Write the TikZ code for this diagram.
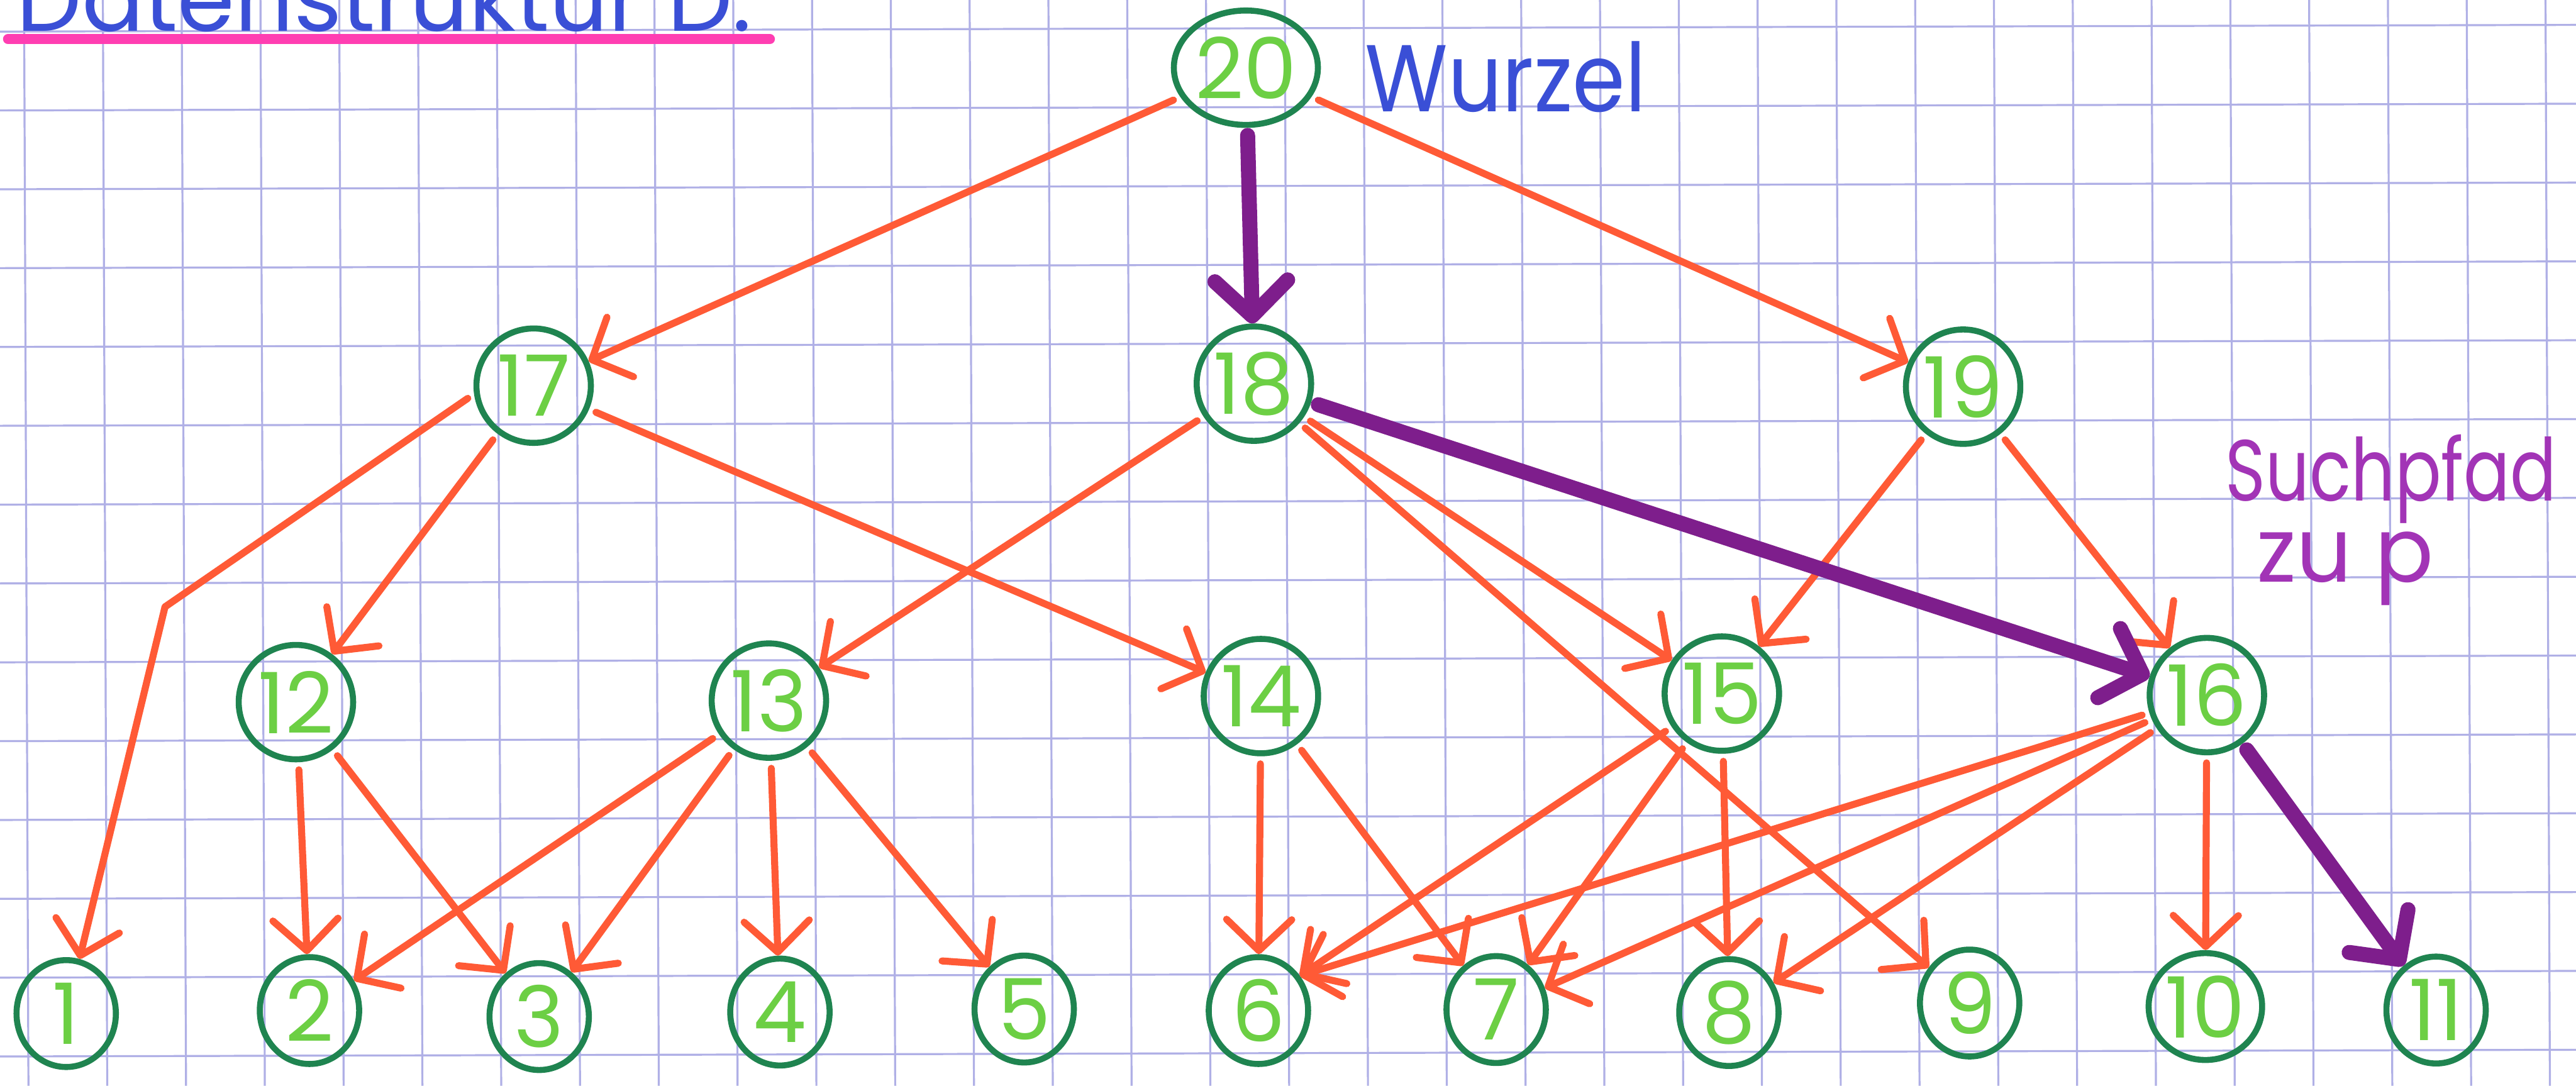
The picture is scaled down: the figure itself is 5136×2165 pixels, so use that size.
\documentclass[tikz,border=0pt]{standalone}
\usepackage{fontspec}
\usepackage{graphicx}
\usetikzlibrary{arrows.meta,shapes.geometric}
\newfontfamily\hand{Poppins}
\definecolor{gridline}{HTML}{B0B0E6}
\definecolor{edgeorange}{HTML}{FF5A36}
\definecolor{pathpurple}{HTML}{7E1E8C}
\definecolor{notepurple}{HTML}{A234B6}
\definecolor{ringgreen}{HTML}{1F8450}
\definecolor{digitgreen}{HTML}{6CCF44}
\definecolor{inkblue}{HTML}{3A4FD6}
\definecolor{markerpink}{HTML}{FF3EB2}

\begin{document}
\begin{tikzpicture}[x=0.01cm,y=-0.01cm,
  knot/.style={ellipse, draw=ringgreen, line width=0.12cm,
    minimum width=2.28cm, minimum height=2.28cm, inner sep=0pt,
    text=digitgreen, font=\hand\fontsize{48}{48}\selectfont},
  leaf/.style={knot, minimum width=1.98cm, minimum height=2.13cm},
  link/.style={draw=edgeorange, line width=0.14cm, line cap=round, line join=round,
    shorten <=0.15cm, -{Straight Barb[length=0.62cm,width=1.3cm,round]}},
  searchlink/.style={draw=pathpurple, line width=0.3cm, line cap=round,
    shorten <=0.15cm, -{Straight Barb[length=0.7cm,width=1.45cm,round]}},
  note/.style={inner sep=0pt, font=\hand},
]
\useasboundingbox (0,0) rectangle (5136,2165);
\clip (0,0) rectangle (5136,2165);
\fill[white] (0,0) rectangle (5136,2165);

% squared paper
\foreach \k in {0,...,32}
  \draw[gridline, line width=0.04cm] ({48+157.1*\k},0) -- ({48+157.1*\k+8.7},2165);
\foreach \k in {0,...,13}
  \draw[gridline, line width=0.04cm] (0,{63+157.2*\k}) -- (5136,{63+157.2*\k-13.4});

% heading, running off the top edge of the sheet
\node[note, anchor=base west, text=inkblue] (title) at (33,62)
  {\resizebox{14.65cm}{!}{Datenstruktur D:}};
\draw[markerpink, line width=0.2cm, line cap=round] (16,78) -- (1535,78);

% nodes
\node[knot] (n20) at (2484,135) {20};
\node[knot] (n17) at (1064,769) {17};
\node[knot] (n18) at (2500,765) {18};
\node[knot] (n19) at (3914,771) {19};
\node[knot] (n12) at (590,1400) {12};
\node[knot] (n13) at (1533,1397) {13};
\node[knot] (n14) at (2514,1388) {14};
\node[knot] (n15) at (3433,1383) {15};
\node[knot] (n16) at (4400,1386) {16};
\node[leaf] (n1) at (132,2021) {1};
\node[leaf] (n2) at (617,2015) {2};
\node[leaf] (n3) at (1075,2027) {3};
\node[leaf] (n4) at (1555,2018) {4};
\node[leaf] (n5) at (2042,2012) {5};
\node[leaf] (n6) at (2509,2015) {6};
\node[leaf] (n7) at (2983,2013) {7};
\node[leaf] (n8) at (3447,2019) {8};
\node[leaf] (n9) at (3927,2000) {9};
\node[leaf] (n10) at (4397,2007) {10};
\node[leaf] (n11) at (4857,2014) {11};

% labels
\node[note, anchor=base west, text=inkblue] (wurzel) at (2721,222)
  {\resizebox{5.6cm}{1.4cm}{Wurzel}};
\node[note, anchor=north west, text=notepurple, align=left,
      font=\hand\fontsize{20pt}{1.62cm}\selectfont] (such) at (4436,866)
  {\resizebox{6.6cm}{1.32cm}{Suchpfad}\\
   \hspace*{0.63cm}\resizebox{3.52cm}{1.0cm}{zu p}};

% edges
\coordinate (b1) at (329,1210);
\draw[link, -] (n17.188) -- (b1);
\draw[link, shorten <=0pt] (b1) -- (n1);
\draw[link] (n20) -- (n17);
\draw[link] (n20) -- (n19);
\draw[link] (n17) -- (n12);
\draw[link] (n17) -- (n14);
\draw[link] (n18) -- (n13);
\draw[link] (n18) -- (n15);
\draw[link] (n18) -- (n9);
\draw[link] (n19) -- (n15);
\draw[link] (n19) -- (n16);
\draw[link] (n12) -- (n2);
\draw[link] (n12) -- (n3);
\draw[link] (n13) -- (n2);
\draw[link] (n13) -- (n3);
\draw[link] (n13) -- (n4);
\draw[link] (n13) -- (n5);
\draw[link] (n14) -- (n6);
\draw[link] (n14) -- (n7);
\draw[link] (n15) -- (n6.40);
\draw[link] (n15) -- (n7);
\draw[link] (n15) -- (n8);
\draw[link] (n16) -- (n6.40);
\draw[link] (n16) -- (n7);
\draw[link] (n16) -- (n8);
\draw[link] (n16) -- (n10);

% search path
\draw[searchlink] (n20) -- (n18);
\draw[searchlink] (n18) -- (n16);
\draw[searchlink] (n16) -- (n11);
\end{tikzpicture}
\end{document}
